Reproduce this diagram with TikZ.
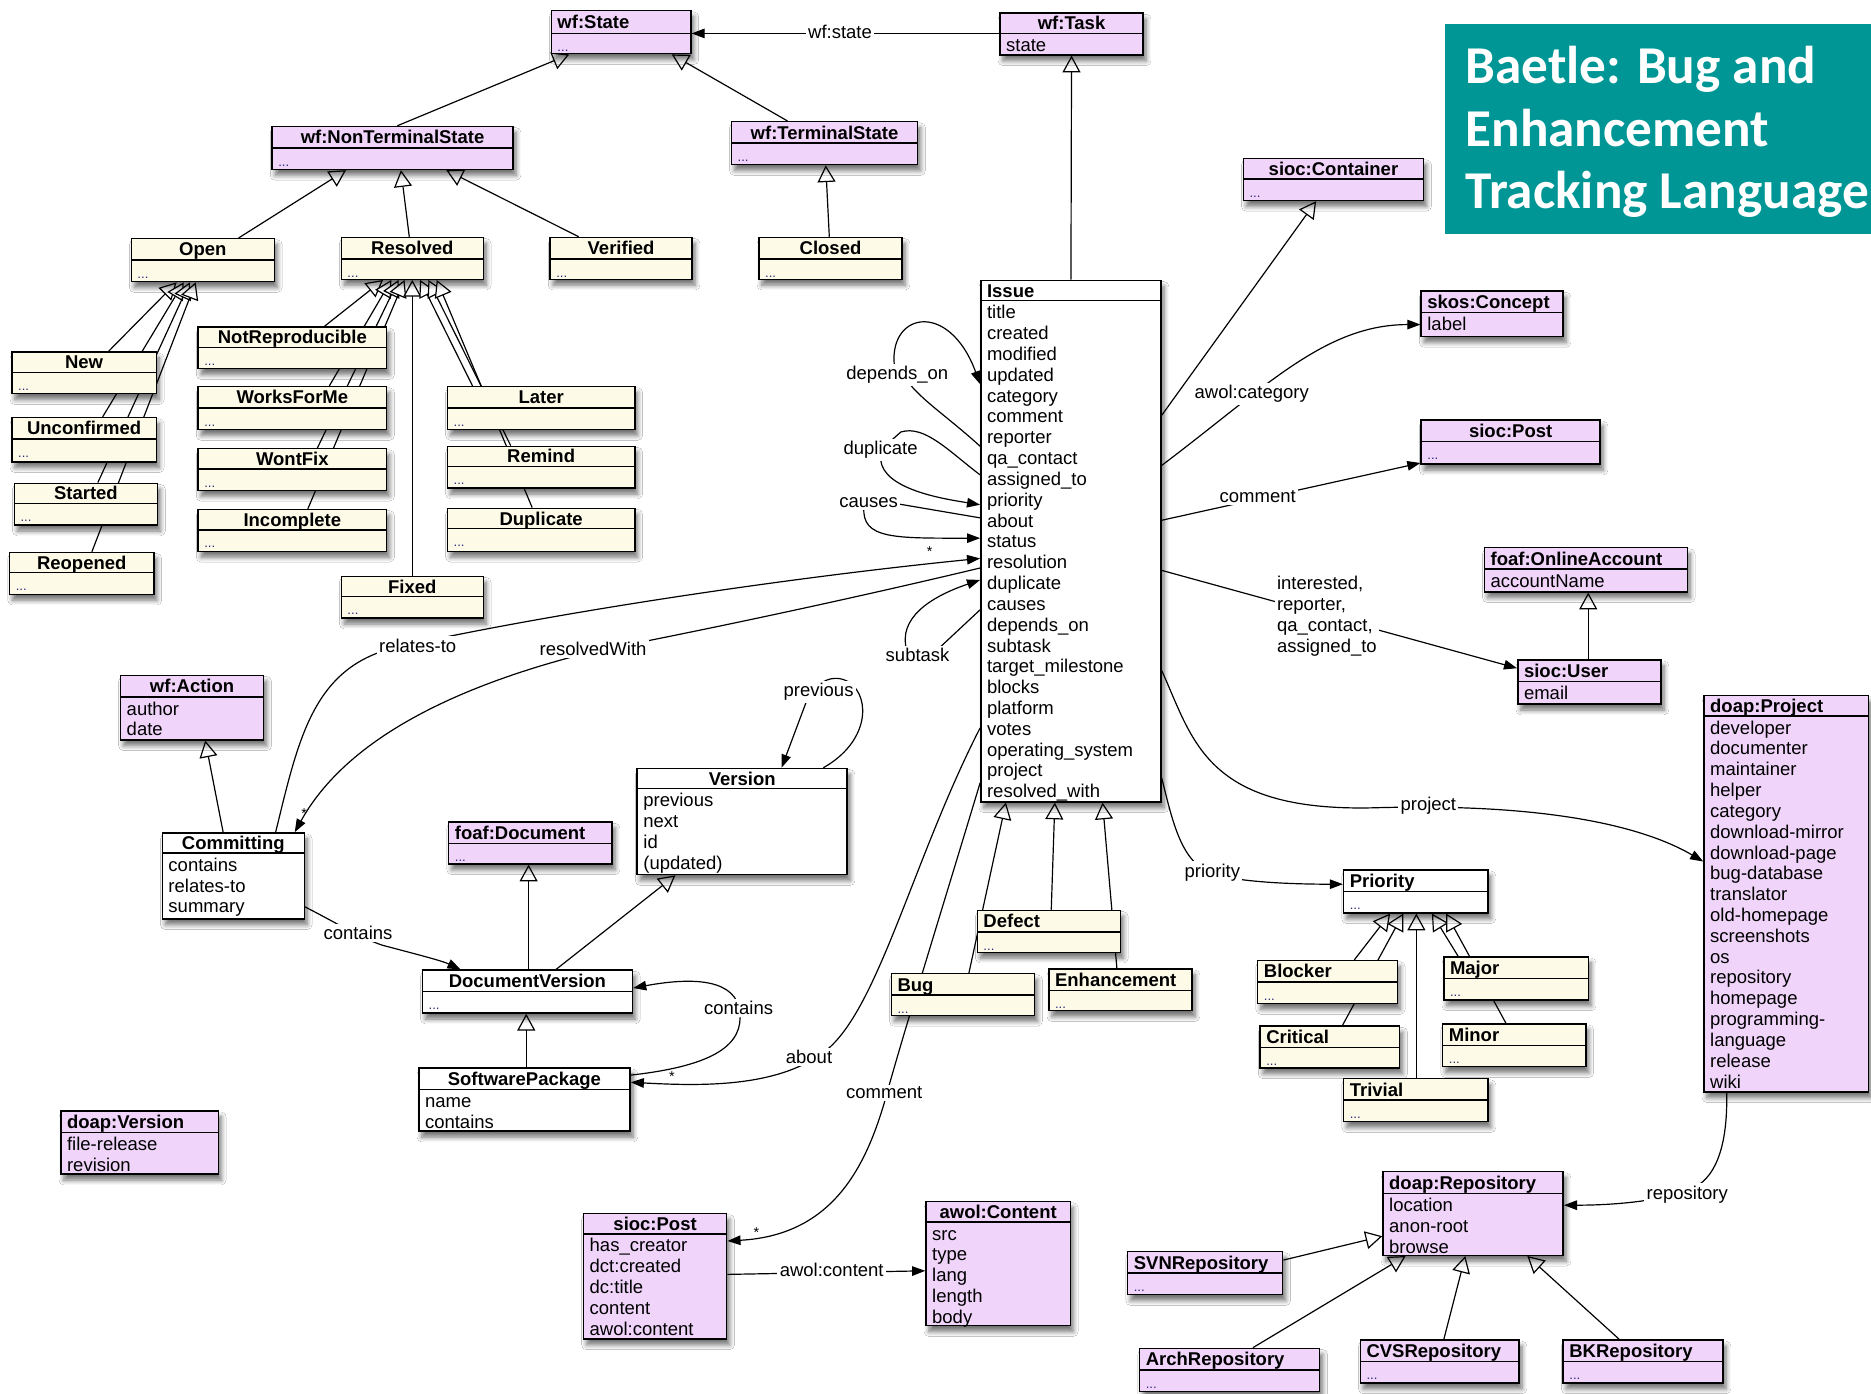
\documentclass[tikz,border=0pt]{standalone}
\usepackage{fontspec}
\setmainfont{Liberation Sans}
\newfontfamily\bannerfont{Carlito}
\usetikzlibrary{arrows.meta,fit,shadows.blur,backgrounds}

\definecolor{clspurple}{RGB}{240,212,250}
\definecolor{clscream}{RGB}{253,251,232}
\definecolor{bannerteal}{RGB}{0,150,150}
\definecolor{dotblue}{RGB}{40,40,120}

\newcommand\fs{\fontsize{15.5}{17.45}\selectfont}
\newcommand\moredots{\strut{\fontsize{11}{12}\selectfont\color{dotblue}...}}

% class box, centred title: name, style, x1, y1, x2, y2, divider y, title, attributes
\newcommand\clsC[9]{%
  \node[#2, fit={(#3,#4) (#5,#6)}] (#1) {};
  \draw[divider] (#3,#7) -- (#5,#7);
  \node[ttl] (#1-t) at ({(#3+#5)/2},{(#4+#7)/2}) {#8};
  \node[att] (#1-a) at (#3,{#7+2.8}) {\strut #9};
}
% class box, title flush left
\newcommand\clsL[9]{%
  \node[#2, fit={(#3,#4) (#5,#6)}] (#1) {};
  \draw[divider] (#3,#7) -- (#5,#7);
  \node[ttl, anchor=west] (#1-t) at ({#3+5},{(#4+#7)/2}) {#8};
  \node[att] (#1-a) at (#3,{#7+2.8}) {\strut #9};
}

\tikzset{
  boxbase/.style={draw, line width=1.2pt, inner sep=0pt,
    blur shadow={shadow xshift=2.5pt, shadow yshift=-5pt, shadow blur radius=4pt,
                 shadow blur steps=6, shadow opacity=55}},
  pbox/.style={boxbase, fill=clspurple},
  cbox/.style={boxbase, fill=clscream},
  wbox/.style={boxbase, fill=white},
  divider/.style={line width=1.2pt},
  ttl/.style={font=\bfseries\fs, inner sep=0pt, text height=11pt, text depth=0pt},
  att/.style={font=\fs, align=left, anchor=north west, inner xsep=5pt, inner ysep=0pt},
  lbl/.style={font=\fs, fill=white, inner sep=2pt},
  mult/.style={font=\fontsize{12}{12}\selectfont, inner sep=0pt},
  gen/.style={line width=1pt, -{Triangle[open, fill=white, length=14pt, width=15pt]}},
  assoc/.style={line width=1pt, -{Triangle[length=11pt, width=8pt]}},
  bantxt/.style={font=\bannerfont\bfseries\fontsize{44.6}{53}\selectfont, text=white,
                 inner sep=0pt, anchor=base west},
}

\begin{document}
\begin{tikzpicture}[x=1pt, y=-1pt]
\useasboundingbox (0,0) rectangle (1568,1168);

% ---------- title banner ----------
\node[fill=bannerteal, inner sep=0pt, fit={(1211,20) (1572,196)}] (banner) {};
\node[bantxt] (ban1) at (1228,70) {Baetle: Bug and};
\node[bantxt] (ban2) at (1228,123) {Enhancement};
\node[bantxt] (ban3) at (1228,175) {Tracking Language};

% ---------- workflow states ----------
\clsL{wfstate}{pbox}{462}{9}{579}{45}{28}{wf:State}{\moredots}
\clsC{wftask}{pbox}{838}{11}{958}{46}{28}{wf:Task}{state}
\clsC{nonterm}{pbox}{228}{106}{430}{142}{124}{wf:NonTerminalState}{\moredots}
\clsC{term}{pbox}{613}{102}{769}{138}{120}{wf:TerminalState}{\moredots}
\clsC{open}{cbox}{110}{200}{230}{236}{218}{Open}{\moredots}
\clsC{resolved}{cbox}{286}{199}{405}{234}{217}{Resolved}{\moredots}
\clsC{verified}{cbox}{461}{199}{580}{234}{217}{Verified}{\moredots}
\clsC{closed}{cbox}{636}{199}{756}{234}{217}{Closed}{\moredots}
\clsC{new}{cbox}{10}{295}{131}{330}{312}{New}{\moredots}
\clsC{unconf}{cbox}{10}{350}{131}{387}{368}{Unconfirmed}{\moredots}
\clsC{started}{cbox}{12}{405}{132}{440}{422}{Started}{\moredots}
\clsC{reopened}{cbox}{8}{463}{129}{498}{480}{Reopened}{\moredots}
\clsC{notrep}{cbox}{166}{274}{324}{309}{291}{NotReproducible}{\moredots}
\clsC{worksforme}{cbox}{166}{324}{324}{360}{342}{WorksForMe}{\moredots}
\clsC{wontfix}{cbox}{166}{376}{324}{411}{393}{WontFix}{\moredots}
\clsC{incomplete}{cbox}{166}{427}{324}{462}{444}{Incomplete}{\moredots}
\clsC{later}{cbox}{375}{324}{532}{360}{342}{Later}{\moredots}
\clsC{remind}{cbox}{375}{374}{532}{409}{391}{Remind}{\moredots}
\clsC{duplicate}{cbox}{375}{426}{532}{462}{443}{Duplicate}{\moredots}
\clsC{fixed}{cbox}{286}{483}{405}{518}{500}{Fixed}{\moredots}

% ---------- issue and neighbours ----------
\clsL{issue}{wbox}{822}{235}{973}{672}{252}{Issue}{title\\created\\modified\\updated\\category\\comment\\reporter\\qa\_contact\\assigned\_to\\priority\\about\\status\\resolution\\duplicate\\causes\\depends\_on\\subtask\\target\_milestone\\blocks\\platform\\votes\\operating\_system\\project\\resolved\_with}
\clsC{container}{pbox}{1042}{133}{1193}{168}{150}{sioc:Container}{\moredots}
\clsL{skos}{pbox}{1191}{244}{1310}{282}{262}{skos:Concept}{label}
\clsC{postr}{pbox}{1191}{352}{1341}{389}{370}{sioc:Post}{\moredots}
\clsL{account}{pbox}{1244}{459}{1414}{496}{477}{foaf:OnlineAccount}{accountName}
\clsL{user}{pbox}{1272}{553}{1392}{590}{571}{sioc:User}{email}
\clsL{project}{pbox}{1428}{583}{1566}{915}{600}{doap:Project}{developer\\documenter\\maintainer\\helper\\category\\download-mirror\\download-page\\bug-database\\translator\\old-homepage\\screenshots\\os\\repository\\homepage\\programming-\\language\\release\\wiki}

% ---------- commits and versions ----------
\clsC{action}{pbox}{101}{566}{221}{620}{584}{wf:Action}{author\\date}
\clsC{committing}{wbox}{136}{698}{255}{770}{715}{Committing}{contains\\relates-to\\summary}
\clsL{foafdoc}{pbox}{376}{689}{513}{724}{707}{foaf:Document}{\moredots}
\clsC{version}{wbox}{534}{644}{710}{733}{661}{Version}{previous\\next\\id\\(updated)}
\clsC{docversion}{wbox}{354}{813}{530}{849}{831}{DocumentVersion}{\moredots}
\clsC{softpkg}{wbox}{351}{895}{528}{948}{913}{SoftwarePackage}{name\\contains}
\clsL{doapversion}{pbox}{51}{931}{183}{984}{949}{doap:Version}{file-release\\revision}

% ---------- issue kinds and priorities ----------
\clsL{defect}{cbox}{819}{763}{939}{798}{781}{Defect}{\moredots}
\clsL{bug}{cbox}{747}{816}{867}{851}{834}{Bug}{\moredots}
\clsL{enh}{cbox}{879}{812}{999}{847}{830}{Enhancement}{\moredots}
\clsL{priority}{wbox}{1126}{729}{1247}{765}{747}{Priority}{\moredots}
\clsL{blocker}{cbox}{1054}{805}{1171}{841}{823}{Blocker}{\moredots}
\clsL{major}{cbox}{1210}{802}{1331}{838}{820}{Major}{\moredots}
\clsL{critical}{cbox}{1056}{860}{1173}{895}{878}{Critical}{\moredots}
\clsL{minor}{cbox}{1209}{858}{1329}{894}{876}{Minor}{\moredots}
\clsL{trivial}{cbox}{1126}{904}{1247}{940}{922}{Trivial}{\moredots}

% ---------- posts and repositories ----------
\clsC{postb}{pbox}{489}{1017}{609}{1122}{1034}{sioc:Post}{has\_creator\\dct:created\\dc:title\\content\\awol:content}
\clsC{content}{pbox}{776}{1007}{897}{1111}{1024}{awol:Content}{src\\type\\lang\\length\\body}
\clsL{repo}{pbox}{1159}{982}{1310}{1052}{1000}{doap:Repository}{location\\anon-root\\browse}
\clsL{svn}{pbox}{945}{1049}{1075}{1085}{1067}{SVNRepository}{\moredots}
\clsL{arch}{pbox}{955}{1130}{1106}{1166}{1148}{ArchRepository}{\moredots}
\clsL{cvs}{pbox}{1140}{1123}{1273}{1159}{1141}{CVSRepository}{\moredots}
\clsL{bk}{pbox}{1310}{1123}{1444}{1159}{1141}{BKRepository}{\moredots}

% ---------- connectors, kept behind the boxes ----------
\begin{scope}[on background layer]
\fill[white] (0,0) rectangle (1568,1168);

% inheritance
\draw[gen] (nonterm.north -| 333,0) -- (wfstate.south -| 477,0);
\draw[gen] (term.north -| 660,0) -- (wfstate.south -| 563,0);
\draw[gen] (closed.north -| 695,0) -- (term.south -| 692,0);
\draw[gen] (open.north -| 200,0) -- (nonterm.south -| 290,0);
\draw[gen] (resolved.north -| 343,0) -- (nonterm.south -| 336,0);
\draw[gen] (verified.north -| 485,0) -- (nonterm.south -| 374,0);
\draw[gen] (issue.north) -- (wftask.south);
\draw[gen] (new.north -| 91,0) -- (open.south -| 148,0);
\draw[gen] (unconf.north -| 86,0) -- (open.south -| 154,0);
\draw[gen] (started.north -| 82,0) -- (open.south -| 159,0);
\draw[gen] (reopened.north -| 77,0) -- (open.south -| 164,0);
\draw[gen] (notrep.north -| 272,0) -- (resolved.south -| 321,0);
\draw[gen] (worksforme.north -| 276,0) -- (resolved.south -| 328,0);
\draw[gen] (wontfix.north -| 266,0) -- (resolved.south -| 334,0);
\draw[gen] (incomplete.north -| 258,0) -- (resolved.south -| 339,0);
\draw[gen] (fixed.north) -- (resolved.south -| 345.5,0);
\draw[gen] (later.north -| 396,0) -- (resolved.south -| 352,0);
\draw[gen] (remind.north -| 428,0) -- (resolved.south -| 359,0);
\draw[gen] (duplicate.north -| 446,0) -- (resolved.south -| 366,0);
\draw[gen] (issue.east |- 0,348) -- (container.south -| 1103,0);
\draw[gen] (user.north -| 1331,0) -- (account.south -| 1331,0);
\draw[gen] (committing.north -| 187,0) -- (action.south -| 172,0);
\draw[gen] (docversion.north -| 443,0) -- (foafdoc.south -| 443,0);
\draw[gen] (docversion.north -| 466,0) -- (version.south -| 566,0);
\draw[gen] (softpkg.north -| 441,0) -- (docversion.south -| 441,0);
\draw[gen] (bug.north -| 812,0) -- (issue.south -| 843,0);
\draw[gen] (defect.north -| 881,0) -- (issue.south -| 884,0);
\draw[gen] (enh.north -| 936,0) -- (issue.south -| 924,0);
\draw[gen] (blocker.north -| 1135,0) -- (priority.south -| 1165,0);
\draw[gen] (critical.north -| 1125,0) -- (priority.south -| 1176,0);
\draw[gen] (trivial.north -| 1187,0) -- (priority.south -| 1187,0);
\draw[gen] (major.north -| 1222,0) -- (priority.south -| 1200,0);
\draw[gen] (minor.north -| 1262,0) -- (priority.south -| 1212,0);
\draw[gen] (svn.east |- 0,1056) -- (repo.west |- 0,1036);
\draw[gen] (arch.north -| 1050,0) -- (repo.south -| 1178,0);
\draw[gen] (cvs.north -| 1210,0) -- (repo.south -| 1228,0);
\draw[gen] (bk.north -| 1357,0) -- (repo.south -| 1280,0);

% associations
\draw[assoc] (wftask.west |- 0,28) -- (wfstate.east |- 0,28);
\draw[assoc] (issue.west |- 0,374) .. controls (795,350) and (772,335) .. (761,320)
  -- (750,310) .. controls (742,262) and (795,250) .. (issue.west |- 0,322);
\draw[assoc] (issue.west |- 0,398) .. controls (795,378) and (775,356) .. (755,362)
  -- (738,377) -- (738,385) .. controls (740,410) and (790,418) .. (issue.west |- 0,423);
\draw[assoc] (issue.west |- 0,434) -- (745,421) -- (724,425)
  .. controls (722,452) and (750,451) .. (issue.west |- 0,451);
\draw[assoc] (issue.west |- 0,511) -- (785,545) -- (760,545)
  .. controls (752,518) and (780,500) .. (issue.west |- 0,486);
\draw[assoc] (committing.north -| 231,0) .. controls (250,620) and (262,560) .. (330,543)
  .. controls (480,510) and (680,482) .. (issue.west |- 0,468);
\draw[assoc] (issue.west |- 0,476) .. controls (700,505) and (580,530) .. (497,546)
  .. controls (380,575) and (290,620) .. (committing.north -| 247,0);
\draw[assoc] (committing.east |- 0,760) .. controls (285,775) and (300,785) .. (320,792)
  .. controls (350,800) and (370,805) .. (docversion.north -| 386,0);
\draw[assoc] (version.north -| 690,0) .. controls (728,622) and (730,585) .. (712,572)
  .. controls (698,563) and (682,572) .. (675,590) -- (version.north -| 655,0);
\draw[assoc] (softpkg.east |- 0,901) .. controls (600,893) and (623,875) .. (620,848)
  .. controls (617,822) and (585,818) .. (docversion.east |- 0,828);
\draw[assoc] (issue.west |- 0,610) .. controls (765,720) and (735,850) .. (690,882)
  .. controls (650,912) and (585,910) .. (softpkg.east |- 0,907);
\draw[assoc] (issue.west |- 0,656) .. controls (790,760) and (762,850) .. (745,910)
  .. controls (728,975) and (700,1035) .. (postb.east |- 0,1040);
\draw[assoc] (postb.east |- 0,1068) -- (content.west |- 0,1065);
\draw[assoc] (project.south -| 1447,0) .. controls (1448,955) and (1440,985) .. (1420,995)
  .. controls (1400,1005) and (1360,1010) .. (repo.east |- 0,1010);
\draw[assoc] (issue.east |- 0,652) .. controls (983,690) and (990,722) .. (1015,732)
  .. controls (1040,740) and (1090,741) .. (priority.west |- 0,741);
\draw[assoc] (issue.east |- 0,562) .. controls (1000,620) and (1010,680) .. (1150,677)
  .. controls (1320,672) and (1390,700) .. (project.west |- 0,722);
\draw[assoc] (issue.east |- 0,478) -- (user.west |- 0,560);
\draw[assoc] (issue.east |- 0,436) -- (postr.west |- 0,388);
\draw[assoc] (issue.east |- 0,390) .. controls (1060,325) and (1110,272) .. (skos.west |- 0,272);
\end{scope}

% ---------- connector labels ----------
\node[lbl] (l-wfstate) at (704,27) {wf:state};
\node[lbl] (l-dep) at (752,314) {depends\_on};
\node[lbl] (l-dup) at (738,377) {duplicate};
\node[lbl] (l-causes) at (728,421) {causes};
\node[mult] (m-rel) at (779,462) {*};
\node[lbl] (l-subtask) at (769,549) {subtask};
\node[lbl] (l-rel) at (350,541) {relates-to};
\node[lbl] (l-resw) at (497,544) {resolvedWith};
\node[mult] (m-resw) at (255,682) {*};
\node[lbl] (l-prev) at (686,580) {previous};
\node[lbl] (l-cont1) at (300,782) {contains};
\node[lbl] (l-cont2) at (619,845) {contains};
\node[lbl] (l-about) at (678,886) {about};
\node[mult] (m-about) at (563,902) {*};
\node[lbl] (l-comm1) at (741,916) {comment};
\node[mult] (m-comm1) at (634,1033) {*};
\node[lbl] (l-awol) at (697,1064) {awol:content};
\node[lbl] (l-cat) at (1049,330) {awol:category};
\node[lbl] (l-comm2) at (1054,416) {comment};
\node[lbl, align=left, anchor=north west] (l-users) at (1068,481)
  {interested,\\reporter,\\qa\_contact,\\assigned\_to};
\node[lbl] (l-proj) at (1197,675) {project};
\node[lbl] (l-prio) at (1016,731) {priority};
\node[lbl] (l-repo) at (1414,1001) {repository};
\end{tikzpicture}
\end{document}
